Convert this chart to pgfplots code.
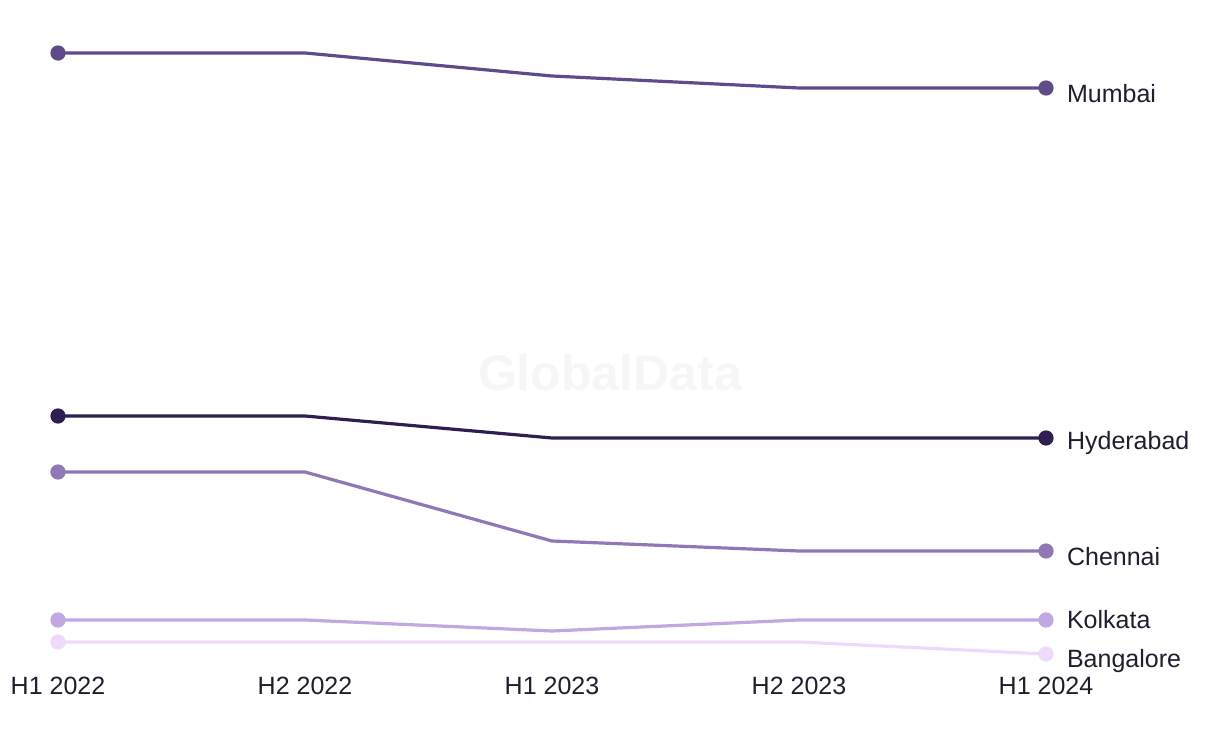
\documentclass[border=0pt]{standalone}
\usepackage{pgfplots}
\pgfplotsset{compat=1.18}
\usepackage{fontspec}
\setmainfont{Liberation Sans}
\definecolor{cMum}{HTML}{604B8A}
\definecolor{cHyd}{HTML}{2F1F50}
\definecolor{cChe}{HTML}{8F78B5}
\definecolor{cKol}{HTML}{C0A8E2}
\definecolor{cBan}{HTML}{F0DAFB}
\definecolor{txt}{HTML}{1E1E2E}
\definecolor{wm}{HTML}{F6F6F6}
\begin{document}
\begin{tikzpicture}
\useasboundingbox (-29pt,-45pt) rectangle (581pt,327pt);
\begin{axis}[
  at={(0,0)}, anchor=south west,
  scale only axis, width=494pt, height=300.5pt,
  xmin=0, xmax=4, ymin=9.2, ymax=129.4,
  clip=false, axis line style={draw=none},
  major tick length=0pt, ymajorticks=false,
  xtick={0,1,2,3,4},
  xticklabels={H1 2022,H2 2022,H1 2023,H2 2023,H1 2024},
  xtick pos=bottom,
  xticklabel style={font=\fontsize{12.5}{12.5}\selectfont, text=txt, anchor=base, yshift=-20pt},
  every axis plot/.append style={line width=1.6pt, mark=*, mark indices={1,5}, mark size=3pt},
]
\node[font=\bfseries\fontsize{25}{25}\selectfont, text=wm] at (axis cs:2.235,65.4) {GlobalData};
\addplot[color=cBan, mark options={fill=cBan, draw=cBan}] coordinates {(0,11.6)(1,11.6)(2,11.6)(3,11.6)(4,9.2)};
\addplot[color=cKol, mark options={fill=cKol, draw=cKol}] coordinates {(0,16)(1,16)(2,13.8)(3,16)(4,16)};
\addplot[color=cChe, mark options={fill=cChe, draw=cChe}] coordinates {(0,45.6)(1,45.6)(2,31.8)(3,29.8)(4,29.8)};
\addplot[color=cHyd, mark options={fill=cHyd, draw=cHyd}] coordinates {(0,56.8)(1,56.8)(2,52.4)(3,52.4)(4,52.4)};
\addplot[color=cMum, mark options={fill=cMum, draw=cMum}] coordinates {(0,129.4)(1,129.4)(2,124.8)(3,122.4)(4,122.4)};
\begin{scope}[every node/.style={font=\fontsize{12.5}{12.5}\selectfont, text=txt, anchor=west}]
\node at (axis cs:4,122.4) [xshift=7pt, yshift=-3pt] {Mumbai};
\node at (axis cs:4,52.4) [xshift=7pt, yshift=-2.5pt] {Hyderabad};
\node at (axis cs:4,29.8) [xshift=7pt, yshift=-3pt] {Chennai};
\node at (axis cs:4,16) [xshift=7pt, yshift=0pt] {Kolkata};
\node at (axis cs:4,9.2) [xshift=7pt, yshift=-3.5pt] {Bangalore};
\end{scope}
\end{axis}
\end{tikzpicture}
\end{document}
